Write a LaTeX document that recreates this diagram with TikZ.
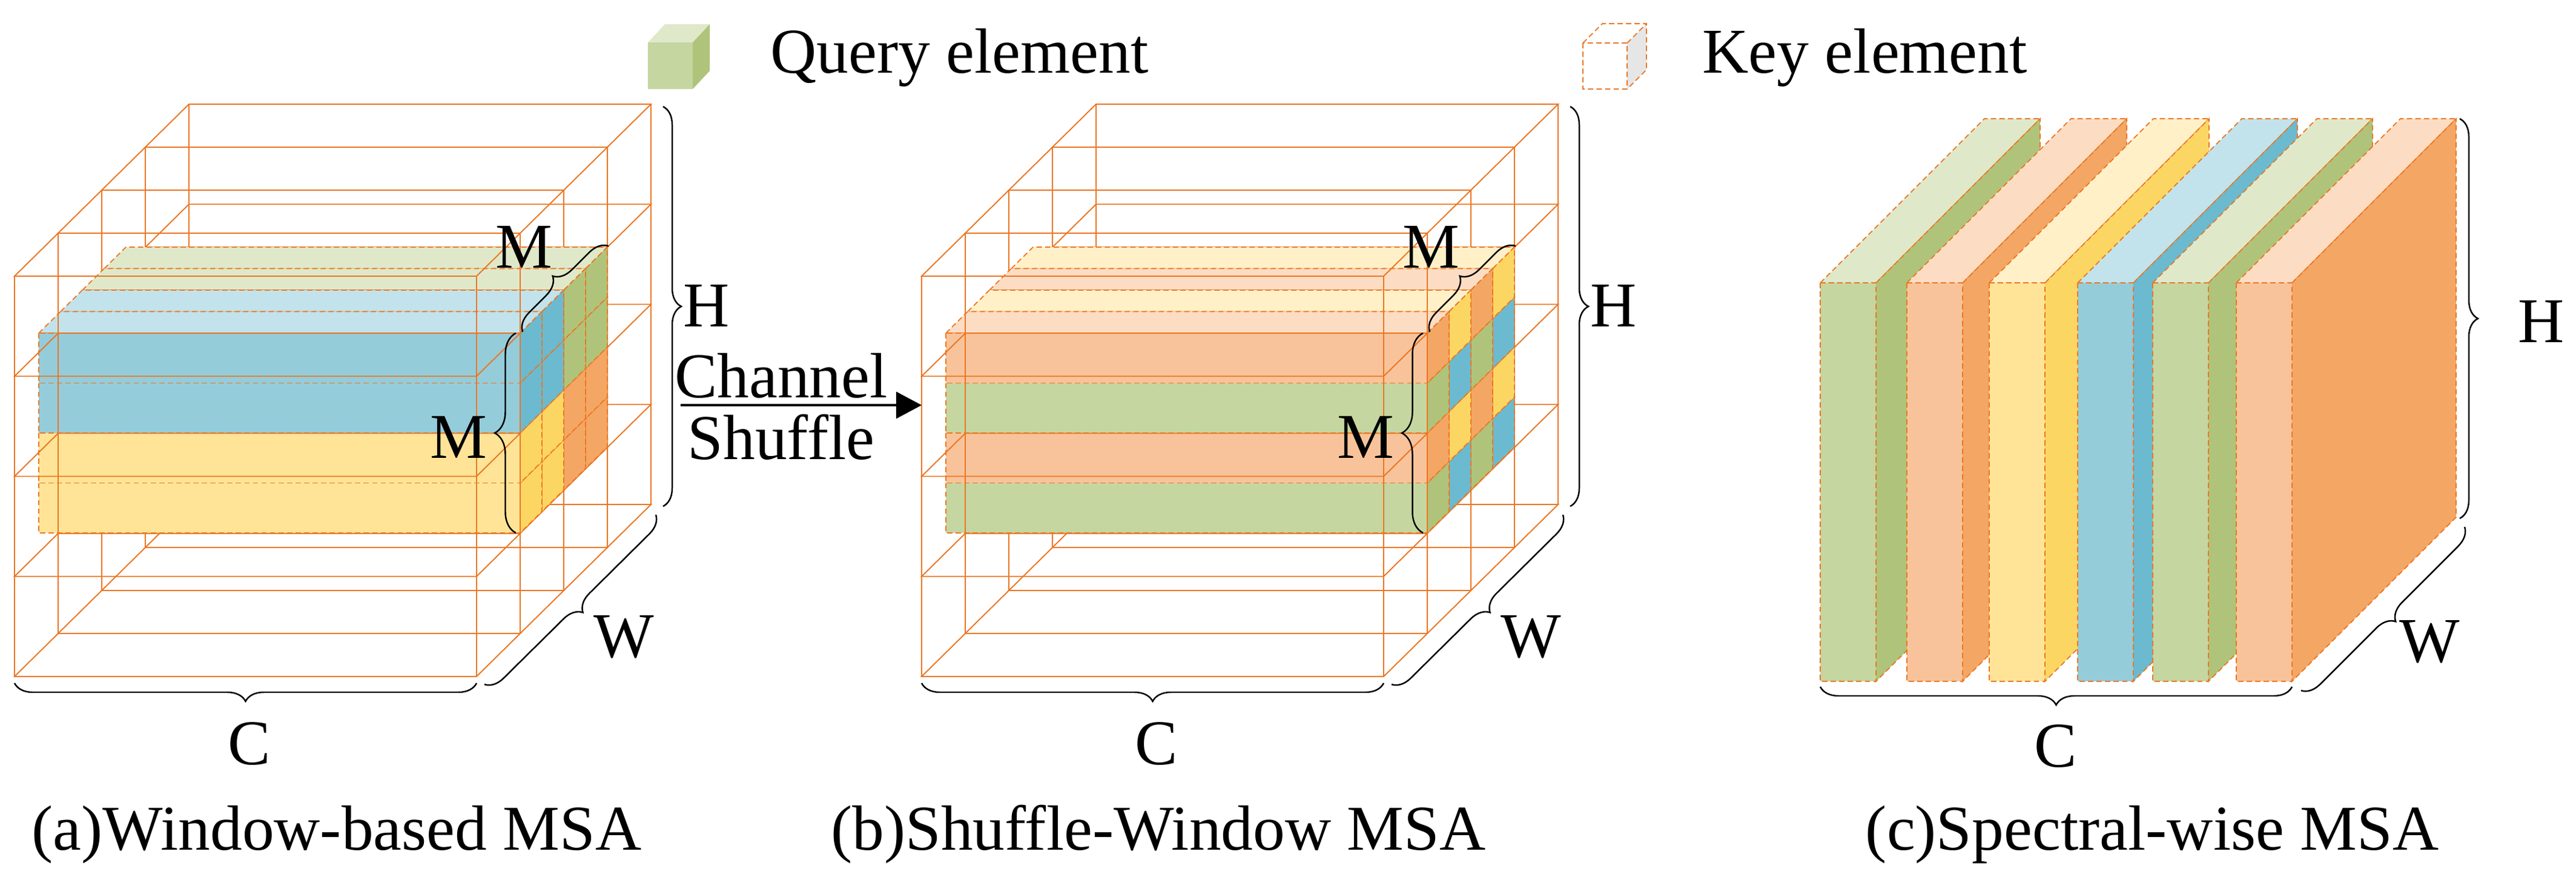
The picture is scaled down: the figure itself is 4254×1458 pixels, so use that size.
\documentclass[tikz,border=0pt]{standalone}
\usepackage{fontspec}
\setmainfont{Liberation Serif}
\newfontfamily\tnr{Liberation Serif}
\usetikzlibrary{decorations.pathreplacing,arrows.meta}
\definecolor{OR}{HTML}{EB7622}
\definecolor{GF}{HTML}{C5D6A0}\definecolor{GS}{HTML}{AFC47A}\definecolor{GT}{HTML}{DFE9CA}
\definecolor{OF}{HTML}{F8C39A}\definecolor{OS}{HTML}{F4A664}\definecolor{OT}{HTML}{FCDDC4}
\definecolor{YF}{HTML}{FFE497}\definecolor{YS}{HTML}{FCD663}\definecolor{YT}{HTML}{FFF0C8}
\definecolor{BF}{HTML}{95CCDA}\definecolor{BS}{HTML}{6BBAD0}\definecolor{BT}{HTML}{C2E3EB}
\definecolor{KS}{HTML}{E6E6E6}
\newcommand\cellbox[7]{%
 \filldraw[cellE,fill=#7T] (#1,#2) -- ++(#5,#6) -- ++(#3,0) -- ++({-(#5)},{-(#6)}) -- cycle;
 \filldraw[cellE,fill=#7S] ({#1+#3},#2) -- ++(#5,#6) -- ++(0,#4) -- ++({-(#5)},{-(#6)}) -- cycle;
 \filldraw[cellE,fill=#7F] (#1,#2) rectangle ++(#3,#4);}
\newcommand\wirebox[2]{%
 \foreach \k in {0,...,4}{\pgfmathsetmacro\yy{#2+165.25*\k}
  \draw[wire] (#1,\yy) -- ++(763,0) -- ++(72,-71) -- ++(-763,0) -- cycle;}
 \draw[wire] (#1,#2) -- ++(0,661) ({#1+763},#2) -- ++(0,661)
   ({#1+835},{#2-71}) -- ++(0,661) ({#1+72},{#2-71}) -- ++(0,661);}
\newcommand\panelwin[2]{% ox, slice colour lists
 \foreach \i in {3,2,1}{\wirebox{24+#1+72*\i}{456-71*\i}}
 \foreach \s/\ca/\cb/\cc/\cd in {#2}{%
  \foreach \r/\cq in {3/\cd,2/\cc,1/\cb,0/\ca}{%
   \pgfmathsetmacro\xx{64+#1+36*\s}\pgfmathsetmacro\yy{550-35.5*\s+82.5*\r}
   \cellbox{\xx}{\yy}{795}{82.5}{36}{-35.5}{\cq}}}
 \wirebox{24+#1}{456}
 \draw[br,decoration={brace,amplitude=0.3cm}] ({1095+#1},176) -- ({1095+#1},836);
 \draw[br,decoration={brace,amplitude=0.3cm}] ({1083+#1},850) -- ({799+#1},1131);
 \draw[br,decoration={brace,amplitude=0.3cm}] ({787+#1},1128) -- ({24+#1},1128);
 \draw[br,decoration={brace,amplitude=0.3cm}] ({863+#1},548) -- ({1005+#1},406);
 \draw[br,decoration={brace,amplitude=0.35cm}] ({852+#1},880) -- ({852+#1},550);
 \node[lb] at ({1167+#1},505) {H};
 \node[lb] at ({1030+#1},1052) {W};
 \node[lb] at ({412+#1},1228) {C};
 \node[lb] at ({865+#1},408) {M};
 \node[lb] at ({757+#1},722) {M};
}
\begin{document}
\begin{tikzpicture}[x=0.01cm,y=-0.01cm,
 wire/.style={draw=OR,line width=0.55pt},
 cellE/.style={draw=OR,line width=0.5pt,dash pattern=on 2.5pt off 1.5pt},
 br/.style={decorate,draw=black,line width=0.7pt},
 lb/.style={font=\tnr\fontsize{30}{35}\selectfont,inner sep=0pt}]
\path[use as bounding box] (0,0) rectangle (4254,1458);
% legend
\fill[GT] (1070,70) -- ++(28,-30) -- ++(74,0) -- ++(-28,30) -- cycle;
\fill[GS] (1144,70) -- ++(28,-30) -- ++(0,77) -- ++(-28,30) -- cycle;
\fill[GF] (1070,70) rectangle (1144,147);
\node[lb,anchor=west] (q) at (1272,95) {Query element};
\fill[KS] (2687,71) -- ++(32,-32) -- ++(0,76) -- ++(-32,32) -- cycle;
\draw[cellE] (2614,71) rectangle (2687,147) (2614,71) -- ++(32,-32) -- ++(73,0) -- ++(0,76) -- ++(-32,32) (2687,71) -- ++(32,-32);
\node[lb,anchor=west] (k) at (2811,95) {Key element};
% panels a, b
\panelwin{0}{3/G/G/O/O,2/G/G/O/O,1/B/B/Y/Y,0/B/B/Y/Y}
\panelwin{1498}{3/Y/B/Y/B,2/O/G/O/G,1/Y/B/Y/B,0/O/G/O/G}
% channel shuffle
\node[lb] (ch) at (1290,620) {Channel};
\node[lb] (sh) at (1290,722) {Shuffle};
\coordinate (as) at (1124,669);
\coordinate (ae) at (1522,669);
\draw[line width=1.1pt,-{Triangle[length=12pt,width=12.5pt]}] (as) -- (ae);
% panel c
\foreach \x/\c in {3006/G,3149/O,3285/Y,3431/B,3555/G,3693/O}{
 \cellbox{\x}{467}{92}{658}{271}{-271}{\c}}
\draw[br,decoration={brace,amplitude=0.3cm}] (4062,196) -- (4062,856);
\draw[br,decoration={brace,amplitude=0.3cm}] (4070,870) -- (3799,1141);
\draw[br,decoration={brace,amplitude=0.3cm}] (3785,1134) -- (3006,1134);
\node[lb] at (4197,531) {H};
\node[lb] at (4012,1060) {W};
\node[lb] at (3395,1232) {C};
% captions
\node[lb] (ca) at (556,1378) {(a)Window-based MSA};
\node[lb] (cb) at (1913,1378) {(b)Shuffle-Window MSA};
\node[lb] (cc) at (3554,1378) {(c)Spectral-wise MSA};
\end{tikzpicture}
\end{document}
